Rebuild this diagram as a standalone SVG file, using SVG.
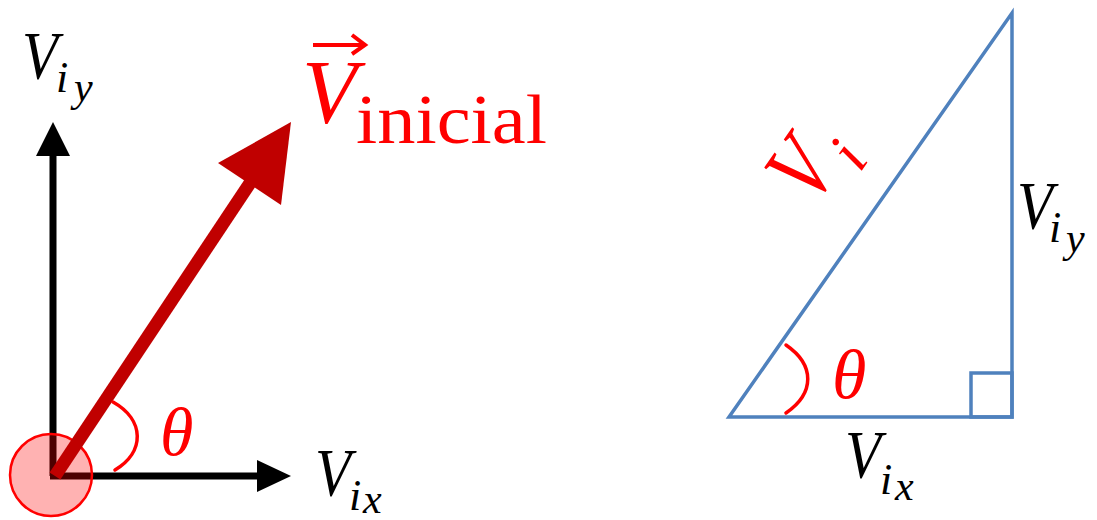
<svg xmlns="http://www.w3.org/2000/svg" width="1097" height="520" viewBox="0 0 1097 520">
  <style>
    .math { font-family: "Liberation Serif", "DejaVu Serif", serif; font-style: italic; }
    .blk { fill: #000000; }
    .red { fill: #FF0000; }
    .up { font-style: normal; }
    .tri { fill: none; stroke: #4F81BD; stroke-width: 3.5; }
    .arc { fill: none; stroke: #FF0000; stroke-width: 3.5; stroke-linecap: round; }
    .bigV { font-size: 68px; }
    .sub { font-size: 44px; }
    .sub2 { font-size: 42px; }
  </style>
  <rect width="1097" height="520" fill="#FFFFFF"/>

  <g id="connectors">
    <line x1="53" y1="476" x2="53" y2="152" stroke="#000000" stroke-width="7"/>
    <polygon points="53,122 36,156 70,156" fill="#000000"/>
    <line x1="50" y1="476" x2="260" y2="476" stroke="#000000" stroke-width="7"/>
    <polygon points="291,476 257,460 257,492" fill="#000000"/>
  </g>

  <g id="origin">
    <circle cx="51" cy="475" r="41" fill="#FF0000" fill-opacity="0.3" stroke="#FF0000" stroke-width="2.5"/>
  </g>

  <g id="vector">
    <line x1="55" y1="476" x2="252" y2="180" stroke="#C00000" stroke-width="13"/>
    <polygon points="291,122 218,163 281,205" fill="#C00000"/>
  </g>

  <g id="angle-left">
    <path class="arc" d="M113,402 C145,420 145,452 115,470"/>
    <text class="math red" x="160" y="455" font-size="68">θ</text>
  </g>

  <g id="label-viy-left">
    <text class="math blk bigV" x="22" y="78" textLength="36" lengthAdjust="spacingAndGlyphs">V</text>
    <text class="math blk sub" x="56" y="92">i</text>
    <text class="math blk sub2" x="74" y="101">y</text>
  </g>

  <g id="label-vix-left">
    <text class="math blk bigV" x="315" y="495" textLength="36" lengthAdjust="spacingAndGlyphs">V</text>
    <text class="math blk sub" x="349" y="510">i</text>
    <text class="math blk sub2" x="363" y="513">x</text>
  </g>

  <g id="label-vinicial">
    <line x1="313" y1="45" x2="364" y2="45" stroke="#FF0000" stroke-width="4"/>
    <polyline points="352,35 365,45 352,54" fill="none" stroke="#FF0000" stroke-width="4"/>
    <text class="math red" x="302" y="123" font-size="90">V</text>
    <text class="red up" x="356" y="143" font-size="70" font-family="Liberation Serif, serif" textLength="191" lengthAdjust="spacingAndGlyphs">inicial</text>
  </g>

  <g id="triangle">
    <polygon class="tri" points="729,417 1012,13 1012,417"/>
    <rect class="tri" x="971" y="373" width="41" height="44"/>
  </g>

  <g id="angle-right">
    <path class="arc" d="M786,345 C815,365 815,393 786,413"/>
    <text class="math red" x="832" y="398" font-size="70">θ</text>
  </g>

  <g id="label-vi" transform="translate(823,193) rotate(-55)">
    <text class="math red" x="-17" y="0" font-size="96" textLength="46" lengthAdjust="spacingAndGlyphs">V</text>
    <text class="math red" x="37" y="19" font-size="62">i</text>
  </g>

  <g id="label-viy-right">
    <text class="math blk bigV" x="1017" y="228" textLength="36" lengthAdjust="spacingAndGlyphs">V</text>
    <text class="math blk sub" x="1049" y="242">i</text>
    <text class="math blk sub2" x="1066" y="252">y</text>
  </g>

  <g id="label-vix-right">
    <text class="math blk bigV" x="845" y="477" textLength="36" lengthAdjust="spacingAndGlyphs">V</text>
    <text class="math blk sub" x="880" y="494">i</text>
    <text class="math blk sub2" x="895" y="500">x</text>
  </g>
</svg>
